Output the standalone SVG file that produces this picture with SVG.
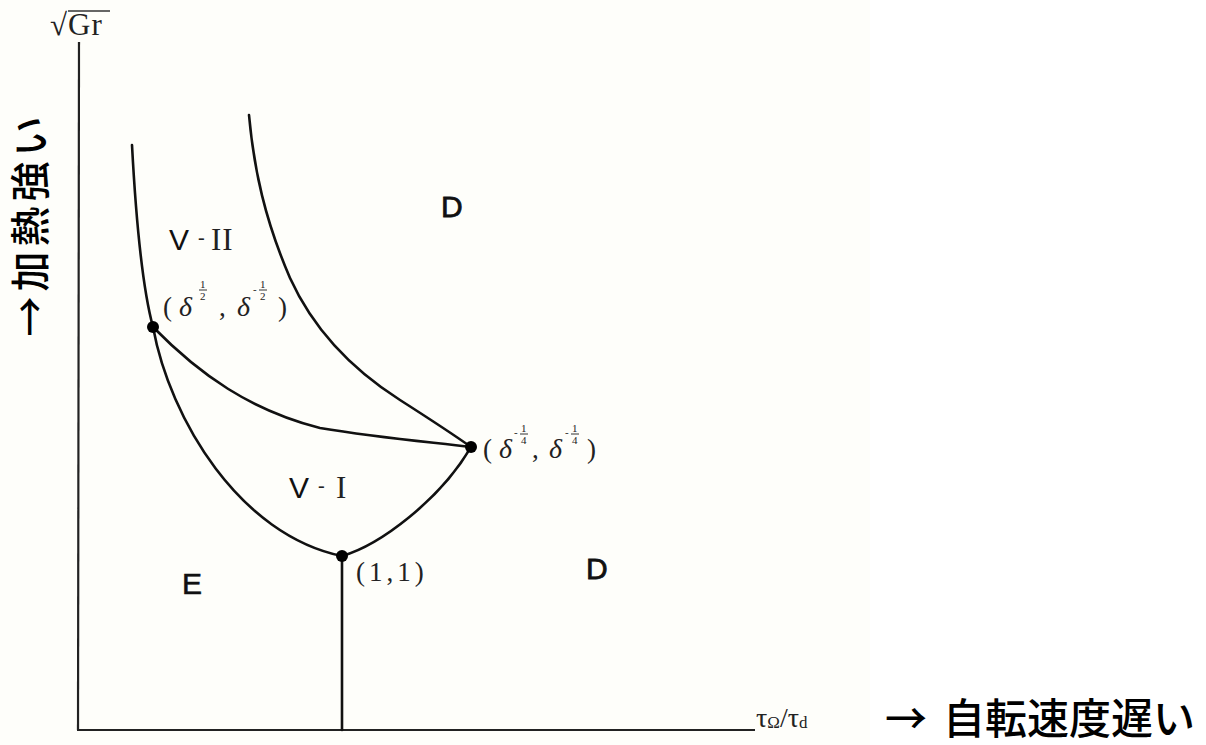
<svg xmlns="http://www.w3.org/2000/svg" width="1206" height="745" viewBox="0 0 1206 745">
<style>
.ln{fill:none;stroke:#111;stroke-width:2.6;stroke-linecap:round}
.ax{fill:none;stroke:#222;stroke-width:2.2}
.dot{fill:#000}
.sans{font-family:"Liberation Sans",Arial,sans-serif;fill:#111}
.serif{font-family:"Liberation Serif","Times New Roman",serif;fill:#222}
.jp{font-family:"Noto Sans CJK JP",sans-serif;fill:#000;font-weight:500}
.sm{font-family:"Liberation Serif",serif;font-size:11px;fill:#222}
.fr{stroke:#333;stroke-width:1}
</style>
<rect x="0" y="0" width="1206" height="745" fill="#ffffff"/>
<rect x="0" y="0" width="870" height="745" fill="#fefefa"/>
<g id="axes">
<line class="ax" x1="79" y1="42" x2="78" y2="730"/>
<line class="ax" x1="77" y1="730" x2="755" y2="730"/>
<text class="serif" x="50" y="35" font-size="31" letter-spacing="1">√Gr</text>
<line x1="68" y1="11" x2="110" y2="11" stroke="#333" stroke-width="1.3"/>
<text class="serif" x="756" y="727" font-size="28">τ<tspan font-size="17" dy="1">Ω</tspan><tspan dy="-1">/τ</tspan><tspan font-size="17" dy="1">d</tspan></text>
</g>
<g id="connectors">
<path class="ln" d="M132,145 C136,220 143,290 153,327"/>
<path class="ln" d="M153,327 C170,420 240,535 342,556"/>
<path class="ln" d="M153,327 C200,375 250,410 320,428 C380,438 430,442 471,447"/>
<path class="ln" d="M249,115 C254,170 265,220 290,278 C310,322 345,365 400,400 C425,416 450,432 471,447"/>
<path class="ln" d="M342,556 C380,545 440,500 471,447"/>
<line class="ln" x1="342" y1="556" x2="342" y2="730"/>
</g>
<g id="p1"><circle class="dot" cx="153" cy="327" r="6"/>
<text class="serif" x="163" y="316" font-size="27" fill="#555">(</text>
<text class="serif" x="179" y="316" font-size="28" font-style="italic">δ</text>
<text class="sm" x="200" y="288">1</text><line class="fr" x1="199" y1="290" x2="207" y2="290"/><text class="sm" x="200" y="300">2</text>
<text class="serif" x="219" y="316" font-size="27">,</text>
<text class="serif" x="237" y="316" font-size="28" font-style="italic">δ</text>
<text class="sm" x="253" y="293">-</text>
<text class="sm" x="260" y="288">1</text><line class="fr" x1="259" y1="290" x2="267" y2="290"/><text class="sm" x="260" y="300">2</text>
<text class="serif" x="278" y="316" font-size="27">)</text>
</g>
<g id="p2"><circle class="dot" cx="471" cy="447" r="6"/>
<text class="serif" x="483" y="458" font-size="27">(</text>
<text class="serif" x="499" y="458" font-size="28" font-style="italic">δ</text>
<text class="sm" x="514" y="436">-</text>
<text class="sm" x="521" y="432">1</text><line class="fr" x1="520" y1="434" x2="528" y2="434"/><text class="sm" x="521" y="444">4</text>
<text class="serif" x="532" y="458" font-size="27">,</text>
<text class="serif" x="549" y="458" font-size="28" font-style="italic">δ</text>
<text class="sm" x="565" y="436">-</text>
<text class="sm" x="572" y="432">1</text><line class="fr" x1="571" y1="434" x2="579" y2="434"/><text class="sm" x="572" y="444">4</text>
<text class="serif" x="587" y="458" font-size="27">)</text>
</g>
<g id="p3"><circle class="dot" cx="342" cy="556" r="6"/>
<text class="serif" x="356" y="581" font-size="27" letter-spacing="4">(1,1)</text>
</g>
<g id="vII"><text class="sans" x="169" y="250" font-size="30">V</text><text class="serif" x="198" y="244" font-size="20">-</text><text class="serif" x="211" y="250" font-size="31" letter-spacing="1">II</text></g>
<g id="vI"><text class="sans" x="289" y="498" font-size="30">V</text><text class="serif" x="318" y="492" font-size="20">-</text><text class="serif" x="336" y="498" font-size="31">I</text></g>
<g id="d1"><text class="sans" x="441" y="217" font-size="30" stroke="#111" stroke-width="0.8">D</text></g>
<g id="d2"><text class="sans" x="586" y="579" font-size="30" stroke="#111" stroke-width="0.8">D</text></g>
<g id="e"><text class="sans" x="182" y="594" font-size="30" stroke="#111" stroke-width="0.6">E</text></g>
<g id="ylabel"><text class="jp" transform="translate(45,224) rotate(-90)" text-anchor="middle" font-size="40" letter-spacing="5">→加熱強い</text></g>
<g id="xlabel"><text class="jp" x="885" y="734" font-size="42">→<tspan dx="16">自転速度遅い</tspan></text></g>
</svg>
